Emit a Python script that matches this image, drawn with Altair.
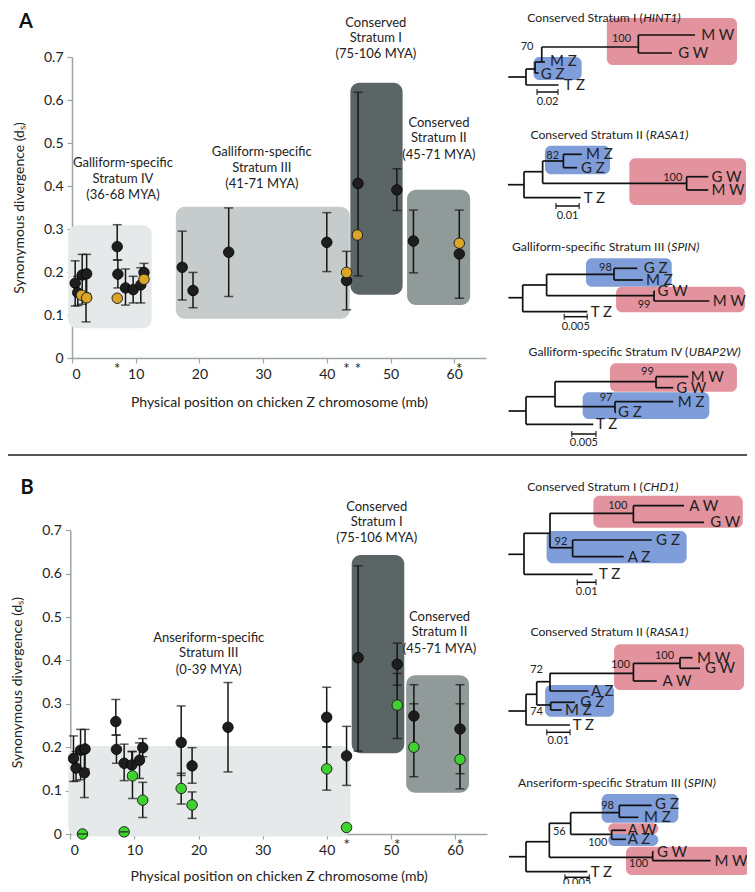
import altair as alt
import pandas as pd

# ===================== DATA =====================
# Chicken Z/W gametologs (black): position on chicken Z (mb), dS, error range
zw_pos = [0.5, 0.9, 1.6, 2.3, 2.2, 7.1, 7.2, 8.4, 9.6, 10.8, 11.3, 17.3, 19.0, 24.6, 40.0, 43.1, 44.9, 51.0, 53.6, 60.8]
zw_ds = [0.174, 0.152, 0.193, 0.196, 0.141, 0.259, 0.195, 0.163, 0.159, 0.170, 0.199, 0.211, 0.157, 0.246, 0.269, 0.180, 0.406, 0.391, 0.272, 0.242]
zw_lo = [0.121, 0.122, 0.125, 0.150, 0.084, 0.228, 0.163, 0.123, 0.128, 0.128, 0.178, 0.135, 0.117, 0.143, 0.201, 0.112, 0.191, 0.343, 0.198, 0.139]
zw_hi = [0.226, 0.190, 0.241, 0.241, 0.200, 0.310, 0.228, 0.207, 0.190, 0.210, 0.220, 0.295, 0.199, 0.349, 0.338, 0.248, 0.618, 0.440, 0.344, 0.344]

# Galliform Z/W (orange, panel A)
gal_pos = [1.5, 2.3, 7.1, 11.3, 43.1, 44.8, 60.8]
gal_ds = [0.146, 0.140, 0.139, 0.183, 0.199, 0.286, 0.267]

# Anseriform Z/W (green, panel B)
ans_pos = [1.9, 8.4, 9.7, 11.3, 17.3, 19.0, 40.0, 43.1, 51.0, 53.6, 60.8]
ans_ds = [0.000, 0.005, 0.134, 0.078, 0.105, 0.067, 0.150, 0.015, 0.297, 0.200, 0.172]
ans_lo = [0.000, 0.005, 0.082, 0.038, 0.069, 0.036, 0.101, None, 0.220, 0.132, 0.104]
ans_hi = [0.000, 0.005, 0.190, 0.119, 0.140, 0.097, 0.200, None, 0.370, 0.300, 0.300]

stars_a = [7.1, 43.1, 44.9, 60.8]
stars_b = [43.1, 51.0, 60.8]

# strata boxes (mb range, dS range)
boxA_kind = ["light", "mid", "dark", "slate"]
boxA_x1 = [-0.6, 16.3, 43.7, 52.6]
boxA_x2 = [12.5, 43.6, 51.9, 62.5]
boxA_y1 = [0.069, 0.091, 0.147, 0.123]
boxA_y2 = [0.309, 0.352, 0.640, 0.391]

boxB_kind = ["light", "dark", "slate"]
boxB_x1 = [-0.3, 43.9, 52.4]
boxB_x2 = [43.7, 52.1, 62.2]
boxB_y1 = [-0.006, 0.186, 0.095]
boxB_y2 = [0.203, 0.643, 0.366]

labA_text = ["Galliform-specific", "Stratum IV", "(36-68 MYA)",
             "Galliform-specific", "Stratum III", "(41-71 MYA)",
             "Conserved", "Stratum I", "(75-106 MYA)",
             "Conserved", "Stratum II", "(45-71 MYA)"]
labA_x = [8.0, 8.0, 8.0, 29.8, 29.8, 29.8, 47.7, 47.7, 47.7, 57.6, 57.6, 57.6]
labA_y = [0.453, 0.416, 0.379, 0.479, 0.442, 0.404, 0.779, 0.744, 0.707, 0.547, 0.512, 0.472]

labB_text = ["Anseriform-specific", "Stratum III", "(0-39 MYA)",
             "Conserved", "Stratum I", "(75-106 MYA)",
             "Conserved", "Stratum II", "(45-71 MYA)"]
labB_x = [21.6, 21.6, 21.6, 47.8, 47.8, 47.8, 57.6, 57.6, 57.6]
labB_y = [0.451, 0.416, 0.378, 0.754, 0.720, 0.681, 0.500, 0.466, 0.426]

# ---- trees: segments (x1, x2, y1, y2) in substitutions/site and tip rows ----
hint1_segs = [(-0.017, 0, 6.9, 6.9), (0, 0, 6.1, 7.7), (0, 0.031, 7.7, 7.7), (0, 0.0086, 6.1, 6.1),
              (0.0086, 0.0086, 5.4, 6.5), (0.0086, 0.012, 6.5, 6.5), (0.0086, 0.015, 5.4, 5.4),
              (0.015, 0.015, 3.9, 5.4), (0.015, 0.018, 5.4, 5.4), (0.015, 0.107, 3.9, 3.9),
              (0.107, 0.107, 2.7, 4.5), (0.107, 0.161, 2.7, 2.7), (0.107, 0.139, 4.5, 4.5)]
hint1_tips = [("M W", 0.166, 2.7), ("G W", 0.144, 4.5), ("M Z", 0.022, 5.3), ("G Z", 0.013, 6.6), ("T Z", 0.035, 7.7)]
hint1_sups = [("100", 0.101, 3.1), ("70", 0.008, 3.9)]
hint1_boxes = [("W", 0.077, 0.201, 1.0, 5.7), ("Z", 0.007, 0.053, 4.9, 7.2)]
hint1_bar = (0.0105, 0.0305, 8.4, "0.02", 9.4)

rasa1a_segs = [(-0.0069, 0, 4.97, 4.97), (0, 0, 3.67, 6.27), (0, 0.0243, 6.27, 6.27), (0, 0.008, 3.67, 3.67),
               (0.008, 0.008, 2.6, 4.83), (0.008, 0.0169, 2.6, 2.6), (0.0169, 0.0169, 1.93, 3.27),
               (0.0169, 0.0248, 1.93, 1.93), (0.0169, 0.0228, 3.27, 3.27), (0.008, 0.0698, 4.83, 4.83),
               (0.0698, 0.0698, 4.17, 5.5), (0.0698, 0.0791, 4.17, 4.17), (0.0698, 0.0791, 5.5, 5.5)]
rasa1a_tips = [("M Z", 0.0262, 1.93), ("G Z", 0.0240, 3.27), ("G W", 0.0800, 4.17), ("M W", 0.0800, 5.5), ("T Z", 0.0252, 6.27)]
rasa1a_sups = [("82", 0.0155, 2.07), ("100", 0.0684, 4.27)]
rasa1a_boxes = [("Z", 0.009, 0.0369, 1.07, 3.93), ("W", 0.0452, 0.0953, 2.33, 7.0)]
rasa1a_bar = (0.0137, 0.0237, 7.1, "0.01", 8.07)

spinA_segs = [(-0.0031, 0, 5.1, 5.1), (0, 0, 3.83, 6.5), (0, 0.01404, 6.5, 6.5), (0, 0.0052, 3.83, 3.83),
              (0.0052, 0.0052, 2.76, 4.9), (0.0052, 0.01985, 2.76, 2.76), (0.01985, 0.01985, 2.16, 3.33),
              (0.01985, 0.0249, 2.16, 2.16), (0.01985, 0.0261, 3.33, 3.33), (0.0052, 0.02855, 4.9, 4.9),
              (0.02855, 0.02855, 4.43, 5.43), (0.02855, 0.0287, 4.43, 4.43), (0.02855, 0.04057, 5.43, 5.43)]
spinA_tips = [("G Z", 0.0261, 2.16), ("M Z", 0.0266, 3.33), ("G W", 0.0291, 4.43), ("M W", 0.0411, 5.43), ("T Z", 0.0146, 6.5)]
spinA_sups = [("98", 0.0196, 2.16), ("99", 0.0280, 5.83)]
spinA_boxes = [("Z", 0.01376, 0.0324, 1.16, 4.0), ("W", 0.0203, 0.0483, 4.0, 6.56)]
spinA_bar = (0.00905, 0.01404, 7.0, "0.005", 8.0)

ubap_segs = [(-0.0036, 0, 5.93, 5.93), (0, 0, 4.5, 7.26), (0, 0.01385, 7.26, 7.26), (0, 0.00597, 4.5, 4.5),
             (0.00597, 0.00597, 3.0, 5.5), (0.00597, 0.02675, 3.0, 3.0), (0.02675, 0.02675, 2.5, 3.6),
             (0.02675, 0.0334, 2.5, 2.5), (0.02675, 0.0303, 3.6, 3.6), (0.00597, 0.01831, 5.5, 5.5),
             (0.01831, 0.01831, 5.0, 6.06), (0.01831, 0.0303, 5.0, 5.0), (0.01831, 0.0185, 6.06, 6.06)]
ubap_tips = [("M W", 0.0337, 2.5), ("G W", 0.0307, 3.6), ("M Z", 0.0310, 5.0), ("G Z", 0.0187, 6.06), ("T Z", 0.0142, 7.26)]
ubap_sups = [("99", 0.0265, 2.0), ("97", 0.0180, 4.6)]
ubap_boxes = [("W", 0.01728, 0.0434, 1.16, 4.0), ("Z", 0.01166, 0.03772, 4.06, 6.73)]
ubap_bar = (0.0094, 0.0144, 8.23, "0.005", 9.13)

chd1_segs = [(-0.0084, 0, 6.76, 6.76), (0, 0, 4.66, 8.76), (0, 0.0367, 8.76, 8.76), (0, 0.0139, 4.66, 4.66),
             (0.0139, 0.0139, 2.66, 6.1), (0.0139, 0.0585, 2.66, 2.66), (0.0585, 0.0585, 1.9, 3.56),
             (0.0585, 0.0856, 1.9, 1.9), (0.0585, 0.0963, 3.56, 3.56), (0.0139, 0.026, 6.1, 6.1),
             (0.026, 0.026, 5.33, 7.0), (0.026, 0.0683, 5.33, 5.33), (0.026, 0.0533, 7.0, 7.0)]
chd1_tips = [("A W", 0.0879, 1.9), ("G W", 0.0990, 3.56), ("G Z", 0.0701, 5.33), ("A Z", 0.0549, 7.0), ("T Z", 0.0396, 8.76)]
chd1_sups = [("100", 0.0558, 1.9), ("92", 0.0237, 5.5)]
chd1_boxes = [("W", 0.0371, 0.117, 0.9, 4.1), ("Z", 0.0121, 0.087, 4.43, 7.66)]
chd1_bar = (0.0285, 0.0385, 9.56, "0.01", 10.5)

rasa1b_segs = [(-0.0076, 0, 7.93, 7.93), (0, 0, 6.26, 9.33), (0, 0.0189, 9.33, 9.33), (0, 0.0046, 6.26, 6.26),
               (0.0046, 0.0046, 5.0, 7.33), (0.0046, 0.0103, 5.0, 5.0), (0.0103, 0.0103, 4.16, 5.93),
               (0.0103, 0.0461, 4.16, 4.16), (0.0103, 0.0268, 5.93, 5.93), (0.0046, 0.0106, 7.33, 7.33),
               (0.0106, 0.0106, 7.06, 7.83), (0.0106, 0.021, 7.06, 7.06), (0.0106, 0.0153, 7.83, 7.83),
               (0.0461, 0.0461, 3.16, 4.93), (0.0461, 0.0661, 3.16, 3.16), (0.0461, 0.0561, 4.93, 4.93),
               (0.0661, 0.0661, 2.6, 3.66), (0.0661, 0.0715, 2.6, 2.6), (0.0661, 0.0747, 3.66, 3.66)]
rasa1b_tips = [("M W", 0.0730, 2.6), ("G W", 0.0764, 3.66), ("A W", 0.0582, 4.93), ("A Z", 0.0275, 5.93),
               ("G Z", 0.0229, 7.06), ("M Z", 0.0163, 7.83), ("T Z", 0.0196, 9.33)]
rasa1b_sups = [("100", 0.0640, 2.4), ("100", 0.0451, 3.33), ("72", 0.0077, 3.83), ("74", 0.0077, 8.06)]
rasa1b_boxes = [("W", 0.0378, 0.0936, 1.26, 5.83), ("Z", 0.0082, 0.0378, 5.33, 8.5)]
rasa1b_bar = (0.0089, 0.0189, 10.06, "0.01", 10.93)

spinB_segs = [(-0.0035, 0, 7.34, 7.34), (0, 0, 5.84, 8.84), (0, 0.01259, 8.84, 8.84), (0, 0.00479, 5.84, 5.84),
              (0.00479, 0.00479, 4.0, 7.4), (0.00479, 0.00917, 4.0, 4.0), (0.00917, 0.00917, 2.94, 5.1),
              (0.00917, 0.01916, 2.94, 2.94), (0.01916, 0.01916, 2.2, 3.4), (0.01916, 0.0258, 2.2, 2.2),
              (0.01916, 0.02307, 3.4, 3.4), (0.00917, 0.01759, 5.1, 5.1), (0.01759, 0.01759, 4.7, 5.6),
              (0.01759, 0.02054, 4.7, 4.7), (0.01759, 0.02054, 5.6, 5.6), (0.00479, 0.02601, 7.4, 7.4),
              (0.02601, 0.02601, 6.84, 7.74), (0.02601, 0.0262, 6.84, 6.84), (0.02601, 0.03792, 7.74, 7.74)]
spinB_tips = [("G Z", 0.0263, 2.1), ("M Z", 0.0240, 3.4), ("A W", 0.0207, 4.7), ("A Z", 0.0207, 5.6),
              ("G W", 0.0267, 6.84), ("M W", 0.0385, 7.74), ("T Z", 0.0131, 8.84)]
spinB_sups = [("98", 0.01827, 2.27), ("56", 0.00836, 4.84), ("100", 0.0169, 5.94), ("100", 0.0253, 8.07)]
spinB_boxes = [("Z", 0.01554, 0.03128, 1.07, 3.94), ("W", 0.0169, 0.02717, 4.0, 5.07),
               ("Z", 0.0169, 0.02717, 5.07, 6.27), ("W", 0.02053, 0.046, 6.34, 9.17)]
spinB_bar = (0.008, 0.013, 9.4, "0.005", 10.0)

# ===================== STYLE / LAYOUT =====================
W, H, M = 739, 876, 8
FONT = "Lato"
INK = "#222222"
PINK = "#e3939e"
BLUE = "#7f9dd9"
AXC = "#9ba5a5"
TITLE_SIZE = 12.2


def px(v):
    return v - M


axis_common = dict(grid=False, domainColor=AXC, tickColor=AXC, domainWidth=1.5, tickWidth=1.2, tickSize=5,
                   labelFont=FONT, labelFontSize=14, labelColor=INK, titleFont=FONT, titleFontSize=14,
                   titleFontWeight="normal", titleColor=INK, labelPadding=4)


def scatter_panel(x0, ppm, y0, ppd, box_df, lab_df, star_list, main_df, sec_df, sec_color, sec_err, xpad):
    xs = alt.Scale(domain=[0, 65], range=[px(x0), px(x0 + 65 * ppm)], nice=False, zero=False)
    ys = alt.Scale(domain=[0, 0.7], range=[px(y0), px(y0 - 0.7 * ppd)], nice=False, zero=False)
    ax = alt.Axis(orient="bottom", offset=px(y0) - H, values=[0, 10, 20, 30, 40, 50, 60],
                  title="Physical position on chicken Z chromosome (mb)", titlePadding=xpad, **axis_common)
    ay = alt.Axis(orient="left", offset=-px(x0), values=[0, 0.1, 0.2, 0.3, 0.4, 0.5, 0.6, 0.7], format="~g",
                  title="Synonymous  divergence (dₛ)", titlePadding=17, **axis_common)

    def X(f):
        return alt.X(f, type="quantitative", scale=xs, axis=ax)

    def Y(f):
        return alt.Y(f, type="quantitative", scale=ys, axis=ay)

    layers = []
    layers.append(alt.Chart(box_df).mark_rect(cornerRadius=9).encode(
        x=X("x1"), x2="x2", y=Y("y1"), y2="y2",
        color=alt.Color("kind:N", scale=alt.Scale(domain=["light", "mid", "dark", "slate"],
                                                  range=["#e6e9e9", "#c5cccb", "#5b6565", "#8f9a99"]),
                        legend=None)))
    layers.append(alt.Chart(lab_df).mark_text(font=FONT, fontSize=13, color=INK, align="center",
                                              baseline="middle").encode(x=X("x"), y=Y("y"), text="t:N"))
    star_df = pd.DataFrame({"pos": star_list})
    layers.append(alt.Chart(star_df).transform_calculate(y0="0").mark_text(
        font=FONT, fontSize=15, color=INK, baseline="top", dy=4, text="*").encode(x=X("pos"), y=Y("y0:Q")))
    # black error bars and points
    layers.append(alt.Chart(main_df).mark_rule(color="#151515", strokeWidth=1.5).encode(
        x=X("pos"), y=Y("lo"), y2="hi"))
    layers.append(alt.Chart(main_df).transform_fold(["lo", "hi"], as_=["end", "cap"]).mark_tick(
        orient="horizontal", size=9, thickness=1.5, color="#151515").encode(x=X("pos"), y=Y("cap:Q")))
    layers.append(alt.Chart(main_df).mark_circle(size=110, opacity=1, color="#1e1e1e", stroke="#000",
                                                 strokeWidth=0.8).encode(x=X("pos"), y=Y("ds")))
    if sec_err:
        layers.append(alt.Chart(sec_df).mark_rule(color="#151515", strokeWidth=1.5).encode(
            x=X("pos"), y=Y("lo"), y2="hi"))
        layers.append(alt.Chart(sec_df).transform_fold(["lo", "hi"], as_=["end", "cap"]).mark_tick(
            orient="horizontal", size=9, thickness=1.5, color="#151515").encode(x=X("pos"), y=Y("cap:Q")))
    layers.append(alt.Chart(sec_df).mark_circle(size=110, opacity=1, color=sec_color, stroke="#222",
                                                strokeWidth=1).encode(x=X("pos"), y=Y("ds")))
    if sec_err:
        layers.append(alt.Chart(sec_df).transform_filter("isValid(datum.lo) && datum.lo == datum.hi").mark_tick(
            orient="horizontal", size=9, thickness=1.5, color="#151515").encode(x=X("pos"), y=Y("lo")))
    return alt.layer(*layers)


def tree_panel(root_px, ppu, top_px, segs, tips, sups, boxes, bar, prefix, gene, gene_px, title_row=0.0):
    xs = alt.Scale(domain=[-1, 1], range=[px(root_px) - ppu, px(root_px) + ppu], nice=False, zero=False)
    ys = alt.Scale(domain=[0, 10], range=[px(top_px), px(top_px) + 100], nice=False, zero=False)

    def X(f):
        return alt.X(f, type="quantitative", scale=xs, axis=None)

    def Y(f):
        return alt.Y(f, type="quantitative", scale=ys, axis=None)

    gx = (gene_px - root_px) / ppu
    box_df = pd.DataFrame(boxes, columns=["kind", "x1", "x2", "y1", "y2"])
    seg_df = pd.DataFrame(segs, columns=["x1", "x2", "y1", "y2"])
    tip_df = pd.DataFrame(tips, columns=["t", "x", "y"])
    sup_df = pd.DataFrame(sups, columns=["t", "x", "y"])
    bar_df = pd.DataFrame([bar], columns=["x1", "x2", "y", "t", "ty"])
    ttl_df = pd.DataFrame({"t": [prefix], "x": [gx], "y": [title_row]})
    gene_df = pd.DataFrame({"t": [gene + ")"], "x": [gx], "y": [title_row]})

    layers = [
        alt.Chart(box_df).mark_rect(cornerRadius=6).encode(
            x=X("x1"), x2="x2", y=Y("y1"), y2="y2",
            color=alt.Color("kind:N", scale=alt.Scale(domain=["W", "Z"], range=[PINK, BLUE]), legend=None)),
        alt.Chart(seg_df).mark_rule(color="#111", strokeWidth=1.7).encode(x=X("x1"), x2="x2", y=Y("y1"), y2="y2"),
        alt.Chart(tip_df).mark_text(font=FONT, fontSize=15, color=INK, align="left", baseline="middle", dx=1).encode(
            x=X("x"), y=Y("y"), text="t:N"),
        alt.Chart(sup_df).mark_text(font=FONT, fontSize=11, color=INK, align="right", baseline="middle", dx=-1).encode(
            x=X("x"), y=Y("y"), text="t:N"),
        alt.Chart(bar_df).mark_rule(color="#111", strokeWidth=1.5).encode(x=X("x1"), x2="x2", y=Y("y")),
        alt.Chart(bar_df).transform_fold(["x1", "x2"], as_=["k", "xe"]).mark_tick(
            orient="vertical", size=6, thickness=1.5, color="#111").encode(x=X("xe:Q"), y=Y("y")),
        alt.Chart(bar_df).transform_calculate(xm="(datum.x1 + datum.x2) / 2").mark_text(
            font=FONT, fontSize=11, color=INK, align="center", baseline="middle").encode(
            x=X("xm:Q"), y=Y("ty"), text="t:N"),
        alt.Chart(ttl_df).mark_text(font=FONT, fontSize=TITLE_SIZE, color=INK, align="right", baseline="middle").encode(
            x=X("x"), y=Y("y"), text="t:N"),
        alt.Chart(gene_df).mark_text(font=FONT, fontSize=TITLE_SIZE, fontStyle="italic", color=INK, align="left",
                                     baseline="middle", dx=0.5).encode(x=X("x"), y=Y("y"), text="t:N"),
    ]
    return alt.layer(*layers)


zw_df = pd.DataFrame({"pos": zw_pos, "ds": zw_ds, "lo": zw_lo, "hi": zw_hi})
gal_df = pd.DataFrame({"pos": gal_pos, "ds": gal_ds})
ans_df = pd.DataFrame({"pos": ans_pos, "ds": ans_ds, "lo": ans_lo, "hi": ans_hi})
boxA_df = pd.DataFrame({"kind": boxA_kind, "x1": boxA_x1, "x2": boxA_x2, "y1": boxA_y1, "y2": boxA_y2})
boxB_df = pd.DataFrame({"kind": boxB_kind, "x1": boxB_x1, "x2": boxB_x2, "y1": boxB_y1, "y2": boxB_y2})
labA_df = pd.DataFrame({"t": labA_text, "x": labA_x, "y": labA_y})
labB_df = pd.DataFrame({"t": labB_text, "x": labB_x, "y": labB_y})

panelA = scatter_panel(72, 6.37, 358, 430, boxA_df, labA_df, stars_a, zw_df, gal_df, "#dba526", False, 14)
panelB = scatter_panel(70.3, 6.41, 834, 434, boxB_df, labB_df, stars_b, zw_df, ans_df, "#3fd12f", True, 12)

trees = [
    tree_panel(526, 1050, 8, hint1_segs, hint1_tips, hint1_sups, hint1_boxes, hint1_bar,
               "Conserved Stratum I (", "HINT1", 642.7, title_row=1.0),
    tree_panel(524, 2330, 135, rasa1a_segs, rasa1a_tips, rasa1a_sups, rasa1a_boxes, rasa1a_bar,
               "Conserved Stratum II (", "RASA1", 649.3),
    tree_panel(522.7, 4600, 246.7, spinA_segs, spinA_tips, spinA_sups, spinA_boxes, spinA_bar,
               "Galliform-specific Stratum III (", "SPIN", 670.7),
    tree_panel(526, 4860, 351.7, ubap_segs, ubap_tips, ubap_sups, ubap_boxes, ubap_bar,
               "Galliform-specific Stratum IV (", "UBAP2W", 688.3),
    tree_panel(524, 1870, 486.7, chd1_segs, chd1_tips, chd1_sups, chd1_boxes, chd1_bar,
               "Conserved Stratum I (", "CHD1", 642.7),
    tree_panel(526, 2330, 631.7, rasa1b_segs, rasa1b_tips, rasa1b_sups, rasa1b_boxes, rasa1b_bar,
               "Conserved Stratum II (", "RASA1", 649.3),
    tree_panel(526, 4870, 783.3, spinB_segs, spinB_tips, spinB_sups, spinB_boxes, spinB_bar,
               "Anseriform-specific Stratum III (", "SPIN", 687.3),
]

one = pd.DataFrame({"a": [0]})
sep = alt.Chart(one).mark_rule(color="#555", strokeWidth=2).encode(
    x=alt.value(0), x2=alt.value(W), y=alt.value(px(455)))
letA = alt.Chart(one).mark_text(font=FONT, fontSize=20, fontWeight="bold", color="#111", align="center",
                                baseline="middle").encode(x=alt.value(px(26)), y=alt.value(px(22)), text=alt.value("A"))
letB = alt.Chart(one).mark_text(font=FONT, fontSize=20, fontWeight="bold", color="#111", align="center",
                                baseline="middle").encode(x=alt.value(px(27)), y=alt.value(px(488)), text=alt.value("B"))

chart = alt.layer(panelA, panelB, *trees, sep, letA, letB).resolve_scale(
    x="independent", y="independent", color="independent"
).properties(width=W, height=H, padding=0, autosize=alt.AutoSizeParams(type="none")).configure_view(stroke=None)

chart.save("out.html", embed_options={"renderer": "svg", "actions": False})
